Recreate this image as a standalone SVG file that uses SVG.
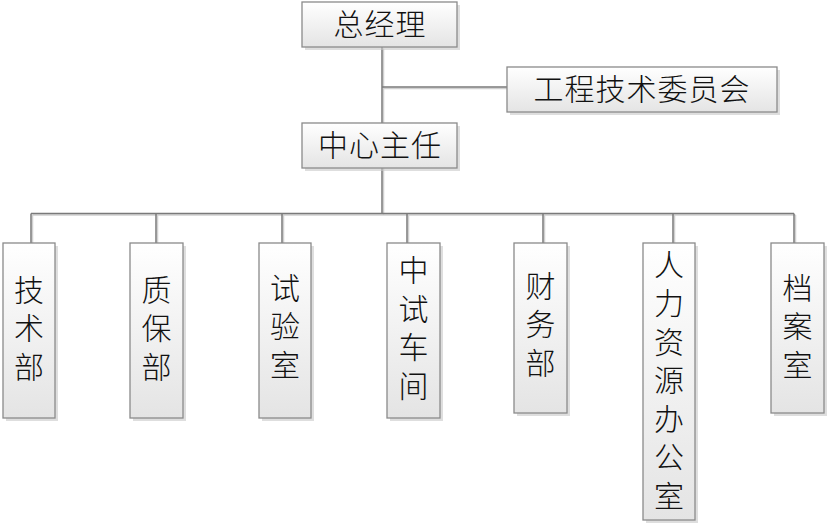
<svg xmlns="http://www.w3.org/2000/svg" xmlns:xlink="http://www.w3.org/1999/xlink" width="830" height="530" viewBox="0 0 830 530">
<defs>
<linearGradient id="g" x1="0" y1="0" x2="0" y2="1">
<stop offset="0" stop-color="#ffffff"/>
<stop offset="1" stop-color="#e4e4e4"/>
</linearGradient>
<path id="conn" d="M382,47 V213 M382,87 H507 M31,213.5 H794 M31,213.5 V243 M156,213.5 V243 M282,213.5 V243 M407,213.5 V243 M543,213.5 V243 M673,213.5 V243 M794,213.5 V243"/>
</defs>
<style>
.box{fill:url(#g);stroke:#8a8a8a;stroke-width:1.3}
.sh{fill:#c8c8c8;opacity:0.6}
.t{font-family:"Noto Sans CJK SC",sans-serif;font-size:30px;fill:#111;text-anchor:middle;font-weight:300}
.v{writing-mode:vertical-rl;letter-spacing:8.5px}
.ln{fill:none;stroke:#7a7a7a;stroke-width:1.5}
.lns{fill:none;stroke:#d0d0d0;stroke-width:1.5}
</style>
<rect width="830" height="530" fill="#fff"/>
<g id="connectors">
<use xlink:href="#conn" class="lns" transform="translate(1.5,1.5)"/>
<use xlink:href="#conn" class="ln"/>
</g>
<g id="n-gm">
<rect class="sh" x="305" y="5" width="155" height="45"/>
<rect class="box" x="302" y="2" width="155" height="45"/>
<text class="t" x="380" y="35" letter-spacing="1">总经理</text>
</g>
<g id="n-committee">
<rect class="sh" x="510" y="70" width="270" height="45"/>
<rect class="box" x="507" y="67" width="270" height="45"/>
<text class="t" x="642" y="100" letter-spacing="1">工程技术委员会</text>
</g>
<g id="n-director">
<rect class="sh" x="305" y="126" width="155" height="45"/>
<rect class="box" x="302" y="123" width="155" height="45"/>
<text class="t" x="380" y="156" letter-spacing="1">中心主任</text>
</g>
<g id="n-tech">
<rect class="sh" x="6" y="246" width="52" height="175"/>
<rect class="box" x="3" y="243" width="52" height="175"/>
<text class="t v" x="29" y="332">技术部</text>
</g>
<g id="n-qa">
<rect class="sh" x="133" y="246" width="53" height="175"/>
<rect class="box" x="130" y="243" width="53" height="175"/>
<text class="t v" x="156.5" y="332">质保部</text>
</g>
<g id="n-lab">
<rect class="sh" x="262" y="246" width="52" height="175"/>
<rect class="box" x="259" y="243" width="52" height="175"/>
<text class="t v" x="285" y="330">试验室</text>
</g>
<g id="n-pilot">
<rect class="sh" x="390" y="246" width="53" height="175"/>
<rect class="box" x="387" y="243" width="53" height="175"/>
<text class="t v" x="413.5" y="332">中试车间</text>
</g>
<g id="n-finance">
<rect class="sh" x="517" y="246" width="53" height="170"/>
<rect class="box" x="514" y="243" width="53" height="170"/>
<text class="t v" x="540.5" y="328">财务部</text>
</g>
<g id="n-hr">
<rect class="sh" x="646" y="246" width="52" height="277"/>
<rect class="box" x="643" y="243" width="52" height="277"/>
<text class="t v" x="669" y="384">人力资源办公室</text>
</g>
<g id="n-archive">
<rect class="sh" x="774" y="246" width="53" height="170"/>
<rect class="box" x="771" y="243" width="53" height="170"/>
<text class="t v" x="797.5" y="330">档案室</text>
</g>
</svg>
